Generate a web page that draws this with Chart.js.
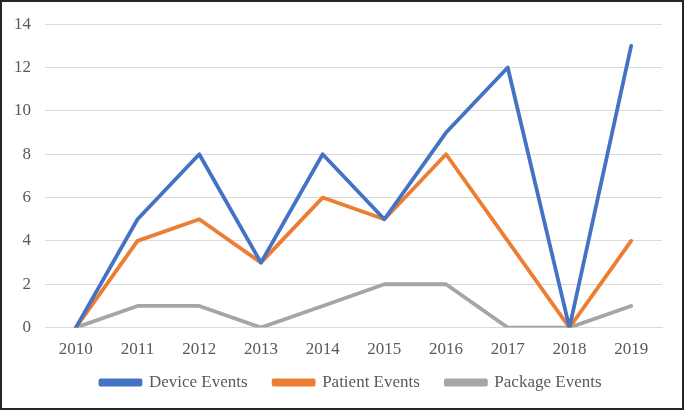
<!DOCTYPE html>
<html>
<head>
<meta charset="utf-8">
<script src="https://cdn.jsdelivr.net/npm/chart.js@4.4.0/dist/chart.umd.min.js"></script>
<style>
html,body{margin:0;padding:0;background:#fff;}
#wrap{width:684px;height:410px;position:relative;}
</style>
</head>
<body>
<div id="wrap"><canvas id="c" width="684" height="410"></canvas></div>
<script>
const years = ['2010','2011','2012','2013','2014','2015','2016','2017','2018','2019'];
const deviceEvents = [0,5,8,3,8,5,9,12,0,13];
const patientEvents = [0,4,5,3,6,5,8,4,0,4];
const packageEvents = [0,1,1,0,1,2,2,0,0,1];
const yTicks = [0,2,4,6,8,10,12,14];

const borderPlugin = {
  id:'outerBorder',
  beforeDraw(chart){
    const lg = chart.legend;
    if (lg && !lg._shifted) {
      lg.top -= 24; lg.bottom -= 24;
      lg.left += 20; lg.right += 20;
      lg._shifted = true;
    }
  },
  afterLayout(chart){
    if (chart.legend) chart.legend._shifted = false;
  },
  afterDraw(chart){
    const ctx = chart.ctx;
    ctx.save();
    ctx.strokeStyle = '#262626';
    ctx.lineWidth = 2;
    ctx.strokeRect(1,1,chart.width-2,chart.height-2);
    ctx.restore();
  }
};

const txt = '#595959';
const font = {family:'"Liberation Serif", "Times New Roman", serif', size:17};

new Chart(document.getElementById('c'), {
  type:'line',
  data:{
    labels: years,
    datasets:[
      {label:'Device Events', data:deviceEvents, borderColor:'#4472C4', backgroundColor:'#4472C4'},
      {label:'Patient Events', data:patientEvents, borderColor:'#ED7D31', backgroundColor:'#ED7D31'},
      {label:'Package Events', data:packageEvents, borderColor:'#A5A5A5', backgroundColor:'#A5A5A5'}
    ]
  },
  options:{
    responsive:false,
    animation:false,
    devicePixelRatio:1,
    elements:{
      line:{borderWidth:3.8, tension:0, borderCapStyle:'round', borderJoinStyle:'round'},
      point:{radius:0}
    },
    layout:{padding:{left:0, right:22, top:22, bottom:-15}},
    plugins:{
      legend:{
        position:'bottom',
        labels:{
          color:txt, font:font, boxWidth:40, boxHeight:4, padding:26
        }
      },
      tooltip:{enabled:false}
    },
    scales:{
      x:{
        offset:true,
        grid:{display:false, drawTicks:false},
        border:{color:'#d9d9d9', width:1},
        ticks:{color:txt, font:font, padding:12, maxRotation:0}
      },
      y:{
        min:0, max:14,
        afterBuildTicks(axis){ axis.ticks = yTicks.map(v=>({value:v})); },
        grid:{color:'#d9d9d9', lineWidth:1, drawTicks:false},
        border:{display:false},
        ticks:{color:txt, font:font, padding:14}
      }
    }
  },
  plugins:[borderPlugin]
});
</script>
</body>
</html>
